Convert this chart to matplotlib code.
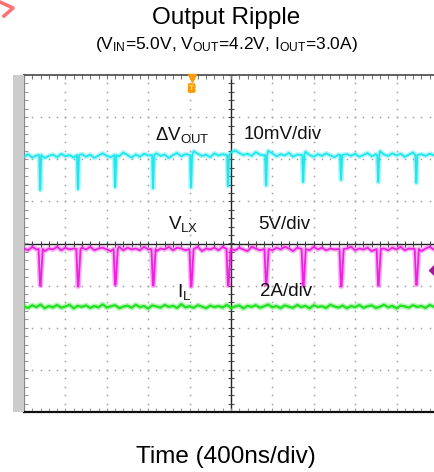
import numpy as np
import matplotlib.pyplot as plt
from matplotlib.patches import Rectangle
from matplotlib.lines import Line2D

plt.rcParams['font.family'] = ['Liberation Sans', 'DejaVu Sans']
plt.rcParams['mathtext.fontset'] = 'custom'
plt.rcParams['mathtext.rm'] = 'Liberation Sans'
plt.rcParams['mathtext.it'] = 'Liberation Sans:italic'

# scope time base (ns), screen is cut a little on the right
ns_per_div = 400
t_left = -2000
t_right = 1972
sample_ns = 40

# channel settings: scale per div, screen offset (div)
vout_scale, vout_offset = 10.0, 2.0    # mV/div
vlx_scale, vlx_offset = 5.0, -1.0      # V/div
il_scale, il_offset = 2.0, -3.0        # A/div

# switching events (ns)
spike_times = [-1845, -1480, -1120, -754, -387, -29, 338, 697, 1063, 1422, 1790]

# output ripple (mV), sampled every 40 ns
vout_mv = [0.6, 1.2, 0.4, 0.9, 1.5, 0.3, 0.8, 1.1, 0.5, 1.3,
           0.7, 1.0, 0.4, 1.8, 1.2, 0.6, 1.1, 0.3, 0.9, 1.4,
           0.8, 0.5, 1.2, 0.7, 1.6, 1.0, 0.4, 1.1, 0.6, 1.3,
           0.9, 0.5, 1.4, 0.8, 1.1, 0.3, 1.0, 1.5, 0.7, 1.2,
           0.6, 1.9, 1.3, 0.8, 1.1, 0.5, 1.4, 0.9, 1.2, 0.7,
           1.6, 2.1, 1.5, 1.0, 1.3, 0.8, 1.7, 1.1, 0.9, 2.0,
           1.4, 0.7, 1.2, 0.9, 1.5, 0.6, 1.1, 1.3, 1.8, 1.0,
           0.6, 1.2, 0.8, 1.4, 0.9, 0.5, 1.1, 1.7, 1.2, 0.8,
           1.3, 0.6, 1.0, 1.5, 0.7, 1.2, 1.9, 1.1, 0.8, 1.4,
           0.9, 1.3, 0.6, 1.1, 1.6, 2.2, 1.2, 0.8, 1.3, 1.0]
vout_spike_mv = [-7.3, -7.1, -6.6, -6.9, -6.7, -6.4, -6.2, -5.4, -4.9, -5.4, -5.6]

# switch node (V)
vlx_v = [4.4, 4.2, 4.6, 4.3, 4.5, 4.1, 4.4, 4.3, 4.6, 4.2,
         4.5, 4.3, 4.4, 4.1, 4.5, 4.3, 4.6, 4.2, 4.4, 4.5,
         4.3, 4.1, 4.4, 4.6, 4.2, 4.5, 4.3, 4.4, 4.2, 4.6,
         4.3, 4.5, 4.1, 4.4, 4.3, 4.6, 4.2, 4.5, 4.4, 4.2,
         4.5, 4.3, 4.6, 4.1, 4.4, 4.3, 4.5, 4.2, 4.6, 4.3,
         4.4, 4.2, 4.5, 4.3, 4.1, 4.6, 4.4, 4.2, 4.5, 4.3,
         4.2, 4.5, 4.3, 4.6, 4.4, 4.1, 4.5, 4.3, 4.4, 4.2,
         4.6, 4.3, 4.5, 4.2, 4.4, 4.3, 4.1, 4.5, 4.4, 4.6,
         4.2, 4.4, 4.3, 4.5, 4.1, 4.6, 4.3, 4.4, 4.2, 4.5,
         4.3, 4.6, 4.2, 4.4, 4.5, 4.3, 4.1, 4.4, 4.6, 4.3]
vlx_low_v = [0.0, -0.1, 0.1, 0.0, -0.1, 0.0, 0.1, 0.0, -0.1, 0.0, 0.1]

# inductor current (A)
il_a = [3.02, 2.94, 3.07, 2.98, 3.10, 2.93, 3.03, 2.97, 3.08, 2.95,
        3.01, 3.09, 2.92, 3.04, 2.99, 3.06, 2.94, 3.03, 2.97, 3.11,
        2.96, 3.02, 3.07, 2.93, 3.00, 3.05, 2.95, 3.09, 2.98, 3.03,
        2.91, 3.06, 3.01, 2.96, 3.08, 2.99, 3.04, 2.94, 3.12, 2.97,
        3.02, 2.95, 3.07, 3.00, 2.93, 3.05, 2.98, 3.03, 2.96, 3.09,
        2.94, 3.01, 3.06, 2.92, 3.04, 2.99, 3.07, 2.95, 3.02, 3.10,
        2.97, 3.03, 2.93, 3.06, 3.00, 2.95, 3.08, 2.98, 3.04, 2.92,
        3.07, 2.99, 3.02, 2.94, 3.09, 3.01, 2.96, 3.05, 2.93, 3.03,
        2.98, 3.08, 2.95, 3.02, 3.06, 2.94, 3.00, 3.09, 2.97, 3.04,
        2.92, 3.05, 3.01, 2.96, 3.07, 2.99, 3.03, 2.94, 3.08, 3.00]

trigger_t = -380
trigger_level_v = 1.85


def with_spikes(values, lows, base, before, after, width):
    """Insert the narrow dips at each switching edge into a sampled trace"""
    t = t_left + sample_ns * np.arange(len(values))
    v = np.array(values, dtype=float)
    keep = np.ones(len(t), dtype=bool)
    for ts in spike_times:
        keep &= np.abs(t - ts) > max(before, after) + 5
    tt = list(t[keep])
    vv = list(v[keep])
    for ts, low in zip(spike_times, lows):
        tt += [ts - before, ts, ts + width, ts + after]
        vv += [base, low, low, base]
    order = np.argsort(tt)
    return np.array(tt)[order], np.array(vv)[order]


def draw_trace(t, y, color, lw):
    """Scope-like trace: faint wide glow under a sharp line"""
    ax.plot(t, y, color=color, lw=lw + 2.2, alpha=0.35, zorder=2)
    ax.plot(t, y, color=color, lw=lw, zorder=3)


fig = plt.figure(figsize=(4.35, 4.72), dpi=100)
ax = fig.add_axes([24 / 435, 1 - 412 / 472, 411 / 435, 337 / 472])
ax.set_xlim(t_left, t_right)
ax.set_ylim(-4, 4)
ax.set_xticks([])
ax.set_yticks([])
ax.spines['right'].set_visible(False)
ax.spines['top'].set_color('#555555')
ax.spines['top'].set_linewidth(1.3)
ax.spines['bottom'].set_color('#111111')
ax.spines['bottom'].set_linewidth(1.6)
ax.spines['left'].set_color('#888888')
ax.spines['left'].set_linewidth(1.6)

# gray strip holding the channel markers
fig.add_artist(Rectangle((13 / 435, 1 - 412 / 472), 11 / 435, 337 / 472,
                         transform=fig.transFigure, fc='#cccccc', ec='none'))

# dotted graticule
minor_x = np.arange(t_left, t_left + 10 * ns_per_div + 1, ns_per_div / 5)
minor_y = np.arange(-4, 4.01, 0.2)
dot = dict(ls='none', marker='s', ms=1.1, mew=0, color='#a0a0a0', zorder=1)
for k in range(1, 10):
    x = t_left + k * ns_per_div
    if x != 0:
        ax.plot(np.full(len(minor_y), x), minor_y, **dot)
for j in [-3, -2, -1, 1, 2, 3]:
    ax.plot(minor_x, np.full(len(minor_x), j), **dot)
ax.axhline(0, color='#222222', lw=1.0, zorder=1)
ax.axvline(0, color='#222222', lw=1.0, zorder=1)
ax.plot(minor_x, np.zeros(len(minor_x)), ls='none', marker='|', ms=5,
        mew=0.8, color='#444444', zorder=1)
ax.plot(np.zeros(len(minor_y)), minor_y, ls='none', marker='_', ms=5,
        mew=0.8, color='#444444', zorder=1)
ax.plot(minor_x, np.full(len(minor_x), 3.95), ls='none', marker='|', ms=3,
        mew=0.8, color='#777777', zorder=1)
ax.plot(minor_x, np.full(len(minor_x), -3.95), ls='none', marker='|', ms=3,
        mew=0.8, color='#999999', zorder=1)
ax.plot(np.full(len(minor_y), t_left + 15), minor_y, ls='none', marker='_',
        ms=3, mew=0.8, color='#999999', zorder=1)

# traces
t, v = with_spikes(vout_mv, vout_spike_mv, 1.0, 8, 12, 2)
draw_trace(t, vout_offset + v / vout_scale, '#20e6ee', 1.3)
t, v = with_spikes(vlx_v, vlx_low_v, 4.35, 14, 26, 6)
draw_trace(t, vlx_offset + v / vlx_scale, '#f020e0', 1.3)
t = t_left + sample_ns * np.arange(len(il_a))
draw_trace(t, il_offset + np.array(il_a) / il_scale, '#22e022', 1.6)

# trigger markers
ax.plot(trigger_t, 3.93, marker='v', ms=6, color='#ff9a00', zorder=4,
        clip_on=False)
ax.text(trigger_t, 3.69, 'T', ha='center', va='center', fontsize=6,
        fontweight='bold', color='#ffe2a8', zorder=4,
        bbox=dict(boxstyle='round,pad=0.15', fc='#ff9a00', ec='none'))
ax.plot(1985, vlx_offset + trigger_level_v / vlx_scale, marker='D', ms=7,
        color='#a8169c', zorder=4)

# channel markers on the strip
ytr = ax.get_yaxis_transform()
ax.text(-0.0146, vout_offset, '2', transform=ytr, ha='center', va='center',
        fontsize=7.5, color='#e8ffff', clip_on=False,
        bbox=dict(boxstyle='round,pad=0.12', fc='#22dde6', ec='#22dde6'))
ax.text(-0.0146, vlx_offset, '3', transform=ytr, ha='center', va='center',
        fontsize=7.5, color='#c020c0', clip_on=False,
        bbox=dict(boxstyle='round,pad=0.12', fc='white', ec='#c020c0'))
ax.text(-0.0146, il_offset, '4', transform=ytr, ha='center', va='center',
        fontsize=7.5, color='#229922', clip_on=False,
        bbox=dict(boxstyle='round,pad=0.12', fc='white', ec='#229922'))

# channel labels
lbl = dict(fontsize=13.5, va='center', ha='left', color='#111111', zorder=5)
ax.text(-736, 2.58, 'ΔV$_{\\rm OUT}$', **lbl)
ax.text(125, 2.58, '10mV/div', **lbl)
ax.text(-608, 0.46, 'V$_{\\rm LX}$', **lbl)
ax.text(261, 0.46, '5V/div', **lbl)
ax.text(-521, -1.15, 'I$_{\\rm L}$', **lbl)
ax.text(280, -1.15, '2A/div', **lbl)

# titles
fig.text(0.5195, 0.962, 'Output Ripple', ha='center', va='center', fontsize=17.5)
fig.text(0.5195, 0.905,
         '(V$_{\\rm IN}$=5.0V, V$_{\\rm OUT}$=4.2V, I$_{\\rm OUT}$=3.0A)',
         ha='center', va='center', fontsize=12.5)
fig.text(0.5195, 0.032, 'Time (400ns/div)', ha='center', va='center',
         fontsize=17.5)

# red mark in the corner of the original screenshot
fig.add_artist(Line2D([0 / 435, 13 / 435, 4 / 435],
                      [1 - 2 / 472, 1 - 8 / 472, 1 - 16 / 472],
                      transform=fig.transFigure, color='#ff7070', lw=2.5))

fig.savefig('out.png', dpi=100)
